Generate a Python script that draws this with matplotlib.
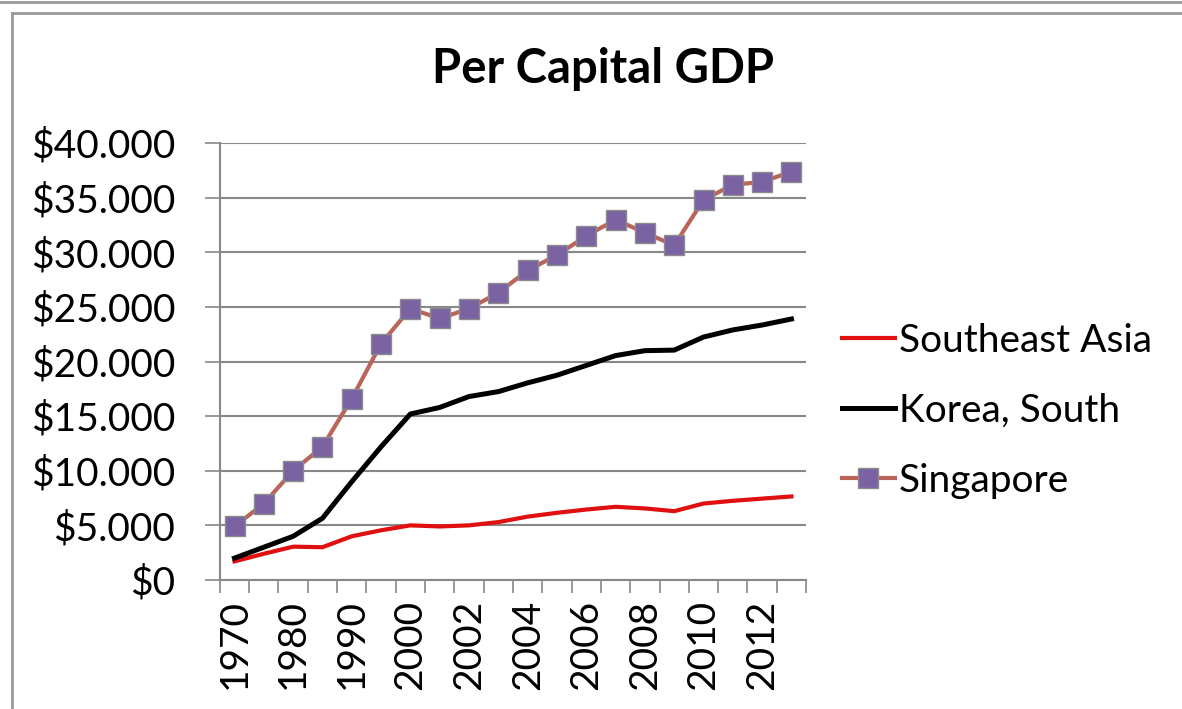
import numpy as np
import matplotlib
matplotlib.use("Agg")
import matplotlib.pyplot as plt
from matplotlib.ticker import FuncFormatter, FixedLocator
from matplotlib.lines import Line2D

plt.rcParams['font.family'] = ['Lato', 'DejaVu Sans']

# categories (years) and series values
years = ['1970', '1975', '1980', '1985', '1990', '1995', '2000', '2001', '2002', '2003',
         '2004', '2005', '2006', '2007', '2008', '2009', '2010', '2011', '2012', '2013']
southeast_asia = [1700, 2400, 3050, 3000, 4000, 4550, 5000, 4900, 5000, 5300,
                  5800, 6150, 6450, 6700, 6550, 6300, 7000, 7250, 7450, 7650]
korea_south = [2000, 3000, 4000, 5650, 9000, 12200, 15200, 15800, 16800, 17250,
               18050, 18750, 19650, 20550, 21000, 21050, 22250, 22900, 23350, 23900]
singapore = [4900, 7000, 10000, 12200, 16600, 21650, 24850, 23950, 24850, 26300,
             28350, 29750, 31500, 33000, 31800, 30650, 34800, 36200, 36450, 37400]
y_ticks = [0, 5000, 10000, 15000, 20000, 25000, 30000, 35000, 40000]

fig = plt.figure(figsize=(11.82, 7.09), dpi=100)
ax = fig.add_axes([0.186, 0.182, 0.496, 0.616])

x = np.arange(len(years))
ax.plot(x, southeast_asia, color='#E01010', lw=3, label='Southeast Asia', zorder=3)
ax.plot(x, korea_south, color='black', lw=3.6, label='Korea, South', zorder=3)
ax.plot(x, singapore, color='#B9655A', lw=3, marker='s', markersize=14,
        markerfacecolor='#7B62A3', markeredgecolor='#8C8C8C', markeredgewidth=1,
        label='Singapore', zorder=4)

ax.set_xlim(-0.5, len(years) - 0.5)
ax.set_ylim(0, 40000)
ax.yaxis.set_major_locator(FixedLocator(y_ticks))
ax.yaxis.set_major_formatter(FuncFormatter(lambda v, p: '$' + f'{v:,.0f}'.replace(',', '.')))
ax.grid(axis='y', color='#888888', lw=1.5)
ax.set_axisbelow(True)

# labels on every other category, tick marks between categories
ax.set_xticks(x[::2])
ax.set_xticklabels(years[::2], rotation=90)
ax.set_xticks(np.arange(-0.5, len(years)), minor=True)
ax.tick_params(axis='x', which='major', length=0, pad=14, labelsize=28)
ax.tick_params(axis='x', which='minor', length=9, width=1.2, color='#888888')
ax.tick_params(axis='y', length=11, width=1.2, color='#888888', labelsize=28, pad=21)

for s in ['top', 'right']:
    ax.spines[s].set_visible(False)
for s in ['left', 'bottom']:
    ax.spines[s].set_color('#888888')
    ax.spines[s].set_linewidth(1.5)

fig.text(0.510, 0.883, 'Per Capital GDP', ha='center', va='baseline',
         fontsize=34, fontweight='bold')

ax.legend(loc='center left', bbox_to_anchor=(1.061, 0.387), frameon=False,
          fontsize=28, handlelength=1.36, handletextpad=0.1, labelspacing=0.87,
          borderaxespad=0, borderpad=0)

# outer chart frame lines
frame = dict(color='#9a9a9a', lw=2, transform=fig.transFigure)
fig.lines.append(Line2D([0.0, 1.0], [0.997, 0.997], **frame))
fig.lines.append(Line2D([0.010, 1.0], [0.982, 0.982], **frame))
fig.lines.append(Line2D([0.010, 0.010], [0.0, 0.982], **frame))

fig.savefig('out.png', dpi=100)
